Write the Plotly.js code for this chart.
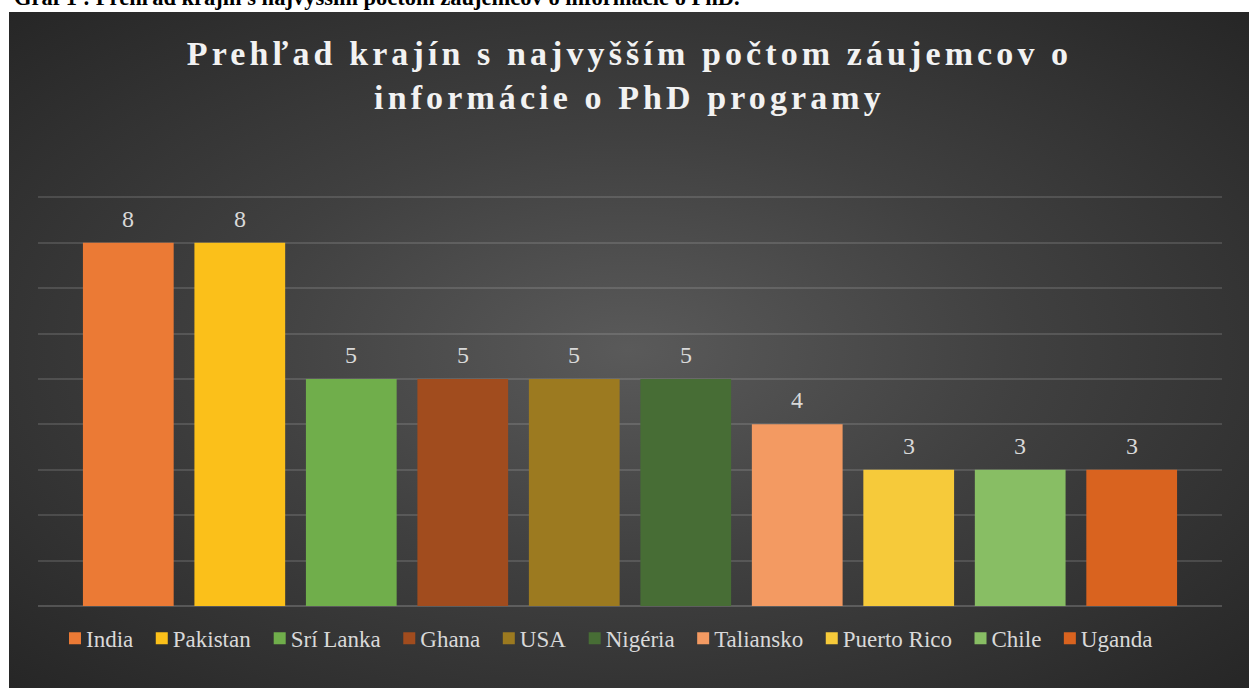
<!DOCTYPE html>
<html>
<head>
<meta charset="utf-8">
<script src="https://cdn.plot.ly/plotly-3.0.1.min.js"></script>
<style>
  html, body { margin: 0; padding: 0; background: #ffffff; }
  #wrap { position: relative; width: 1249px; height: 688px; overflow: hidden; }
  #panel { position: absolute; left: 9px; top: 12px; width: 1240px; height: 676px;
    background: radial-gradient(ellipse farthest-corner at 50% 50%, #5a5a5a 0%, #404040 45%, #262626 100%); }
  #chart { position: absolute; left: 0; top: 0; width: 1249px; height: 688px; }
  #chart .gtitle { letter-spacing: 4.1px; }
</style>
</head>
<body>
<div id="wrap">
  <div id="panel"></div>
  <div id="chart"></div>
</div>
<script>
const categories = ["India", "Pakistan", "Srí Lanka", "Ghana", "USA", "Nigéria", "Taliansko", "Puerto Rico", "Chile", "Uganda"];
const values = [8, 8, 5, 5, 5, 5, 4, 3, 3, 3];
const colors = ["#EB7A35", "#FBC01A", "#70AE4B", "#A14C1E", "#9C7A20", "#476D35", "#F39A62", "#F6CA3A", "#88BE64", "#D9631F"];
const chartTitle = "Prehľad krajín s najvyšším počtom záujemcov o<br>informácie o PhD programy";
const captionText = "Graf 1 : Prehľad krajín s najvyšším počtom záujemcov o informácie o PhD.";

const serif = "Liberation Serif, Times New Roman, DejaVu Serif, serif";

const traces = categories.map((c, i) => ({
  type: "bar",
  name: c,
  x: [i],
  y: [values[i]],
  width: 0.814,
  marker: { color: colors[i], line: { width: 0 } },
  hoverinfo: "name+y",
  showlegend: true
}));

const labelAnnotations = categories.map((c, i) => ({
  x: i, y: values[i], xref: "x", yref: "y",
  text: String(values[i]),
  showarrow: false, yanchor: "bottom", yshift: 9,
  font: { family: serif, size: 24, color: "#D9D9D9" }
}));

const layout = {
  width: 1249, height: 688,
  paper_bgcolor: "rgba(0,0,0,0)",
  plot_bgcolor: "rgba(0,0,0,0)",
  margin: { l: 38, r: 27, t: 195, b: 82, pad: 0 },
  barmode: "overlay",
  title: {
    text: chartTitle,
    x: 0.504, xanchor: "center",
    y: 0.9058, yanchor: "top", yref: "container",
    font: { family: serif, size: 34, color: "#F2F2F2", weight: "bold" }
  },
  xaxis: {
    range: [-0.81, 9.81],
    showticklabels: false, showgrid: false, zeroline: false, showline: false, ticks: "",
    fixedrange: true
  },
  yaxis: {
    range: [0, 9.05], dtick: 1, tick0: 0,
    showticklabels: false, ticks: "",
    showgrid: true, gridcolor: "rgba(217,217,217,0.16)", gridwidth: 1.5,
    zeroline: true, zerolinecolor: "rgba(217,217,217,0.22)", zerolinewidth: 1.5,
    showline: false, fixedrange: true
  },
  legend: {
    orientation: "h",
    x: 0.485, xanchor: "center",
    y: -0.026, yanchor: "top",
    font: { family: serif, size: 23, color: "#D9D9D9" },
    bgcolor: "rgba(0,0,0,0)",
    traceorder: "normal",
    itemclick: false, itemdoubleclick: false
  },
  annotations: labelAnnotations.concat([{
    xref: "paper", yref: "paper",
    x: -0.022, xanchor: "left",
    y: 1.445, yanchor: "bottom",
    text: "<b>" + captionText + "</b>",
    showarrow: false,
    font: { family: serif, size: 22.5, color: "#000000" }
  }]),
  showlegend: true
};

Plotly.newPlot("chart", traces, layout, { displayModeBar: false }).then(gd => {
  try {
    // tighten the gap between legend swatch and its text, Excel-style
    const items = Array.from(gd.querySelectorAll(".legend .traces"));
    if (!items.length) return;
    const rows = new Set(items.map(g => {
      const m = (g.getAttribute("transform") || "").match(/translate\(\s*([-\d.]+)[ ,]+([-\d.]+)\s*\)/);
      return m ? Math.round(parseFloat(m[2])) : 0;
    }));
    if (rows.size !== 1) return;
    const textShift = 9;
    const itemShift = 5.5;
    items.forEach((g, i) => {
      const t = g.querySelector("text.legendtext");
      if (t) {
        const x = parseFloat(t.getAttribute("x") || "0");
        t.setAttribute("x", x - textShift);
        t.querySelectorAll("tspan").forEach(ts => {
          if (ts.hasAttribute("x")) ts.setAttribute("x", parseFloat(ts.getAttribute("x")) - textShift);
        });
      }
      const tr = g.getAttribute("transform") || "";
      const m = tr.match(/translate\(\s*([-\d.]+)[ ,]+([-\d.]+)\s*\)/);
      if (m) g.setAttribute("transform", "translate(" + (parseFloat(m[1]) - itemShift * i) + "," + m[2] + ")");
    });
    const first = items[0].querySelector(".legendpoints path");
    if (first) {
      const left = first.getBoundingClientRect().left - gd.getBoundingClientRect().left;
      const dx = 69 - left;
      items.forEach(g => {
        const tr = g.getAttribute("transform");
        const m = tr.match(/translate\(\s*([-\d.]+)[ ,]+([-\d.]+)\s*\)/);
        if (m) g.setAttribute("transform", "translate(" + (parseFloat(m[1]) + dx) + "," + m[2] + ")");
      });
    }
  } catch (e) { /* keep default legend */ }
});
</script>
</body>
</html>
